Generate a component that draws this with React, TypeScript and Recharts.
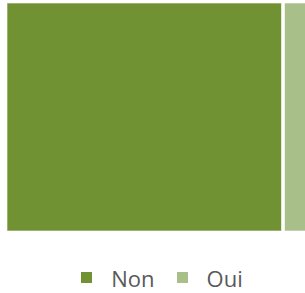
import React from "react";
import { Treemap } from "recharts";

const categories: string[] = ["Non", "Oui"];
const values: number[] = [89, 11];
const colors: string[] = ["#709232", "#A9BF8A"];

const data = categories.map((name, i) => ({ name, size: values[i], fill: colors[i] }));

const CellContent = (props: any) => {
  const { x, y, width, height, depth, name } = props;
  if (depth !== 1) return null;
  const idx = categories.indexOf(name);
  const left = x > 0.5 ? 1.5 : 0;
  return (
    <rect
      x={x + left}
      y={y}
      width={Math.max(0, width - 1.5 - left)}
      height={height}
      fill={colors[idx]}
      stroke="#ffffff"
      strokeOpacity={0.6}
      strokeWidth={1}
    />
  );
};

export default function App() {
  return (
    <div style={{ position: "absolute", left: 7, top: 3, width: 310, height: 290 }}>
      <Treemap
        width={310}
        height={228}
        data={data}
        dataKey="size"
        nameKey="name"
        isAnimationActive={false}
        content={<CellContent />}
        style={{ overflow: "visible" }}
      />
      <div
        style={{
          position: "absolute",
          left: 0,
          top: 260,
          width: 310,
          height: 30,
          display: "flex",
          justifyContent: "center",
          alignItems: "center",
          fontFamily: "'Open Sans', sans-serif",
          fontSize: 22,
          color: "#595959",
        }}
      >
        {categories.map((c, i) => (
          <div key={c} style={{ display: "flex", alignItems: "center", marginLeft: i === 0 ? 0 : 22 }}>
            <div style={{ width: 11, height: 11, background: colors[i], marginRight: 19, marginTop: -2 }} />
            <span>{c}</span>
          </div>
        ))}
      </div>
    </div>
  );
}
